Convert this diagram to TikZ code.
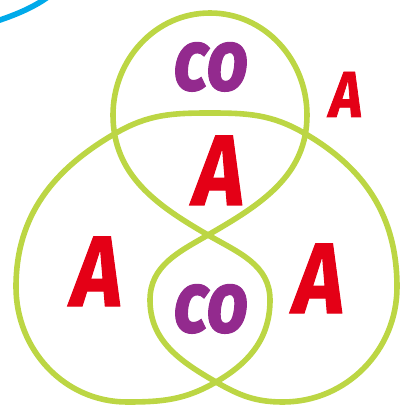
\documentclass[tikz,border=0pt]{standalone}
\usepackage{fontspec}
\setmainfont{Fira Sans}
\newfontface\heavyfont{Fira Sans Bold Italic}[FakeBold=1.3]
\definecolor{vgreen}{RGB}{188,214,68}
\definecolor{vblue}{RGB}{0,170,234}
\definecolor{vred}{RGB}{228,0,22}
\definecolor{vpurple}{RGB}{147,42,142}
\begin{document}
\begin{tikzpicture}[x=1pt,y=1pt,
  loopline/.style={draw=vgreen, line width=5.6pt},
  arcline/.style={draw=vblue, line width=5.6pt},
  bigA/.style={text=vred, font=\heavyfont\fontsize{100}{100}\selectfont, anchor=base, inner sep=0pt, xscale=0.86},
  smallA/.style={text=vred, font=\heavyfont\fontsize{65}{65}\selectfont, anchor=base, inner sep=0pt, xscale=0.86},
  colabel/.style={text=vpurple, font=\heavyfont\fontsize{87}{87}\selectfont, anchor=base, inner sep=0pt, xscale=0.84}
]
\useasboundingbox (0,0) rectangle (403,408);
% key points of the looped curve
\coordinate (T) at (210,395);
\coordinate (TR) at (307,293);
\coordinate (TL) at (113,293);
\coordinate (X1) at (208,173);
\coordinate (SL) at (150,108);
\coordinate (SR) at (270,108);
\coordinate (X2) at (216,26);
\coordinate (RB) at (283,6);
\coordinate (LB) at (127,6);
\coordinate (RR) at (397,121);
\coordinate (LL) at (16,121);
\coordinate (CR) at (304,275);
\coordinate (CL) at (116,275);
\coordinate (AT) at (210,295);
\draw[loopline] (T) to[out=0,in=90] (TR) to[out=-90,in=30] (X1)
  to[out=210,in=90] (SL) to[out=-90,in=150] (X2)
  to[out=-30,in=180] (RB) to[out=0,in=-90] (RR)
  to[out=90,in=-30] (CR) to[out=150,in=0] (AT)
  to[out=180,in=30] (CL) to[out=210,in=90] (LL)
  to[out=-90,in=180] (LB) to[out=0,in=210] (X2)
  to[out=30,in=-90] (SR) to[out=90,in=-30] (X1)
  to[out=150,in=-90] (TL) to[out=90,in=180] cycle;
% blue arc in the corner
\coordinate (B1) at (-3,387);
\coordinate (B2) at (48,411);
\draw[arcline] (B1) .. controls (12,392) and (31,399) .. (B2);
% labels
\node[colabel] (cotop) at (211,318) {co};
\node[colabel] (cobot) at (211,76) {co};
\node[bigA] (Amid) at (219,203) {A};
\node[bigA] (Aleft) at (97,102) {A};
\node[bigA] (Aright) at (319,95) {A};
\node[smallA] (Aout) at (346,291) {A};
\end{tikzpicture}
\end{document}
